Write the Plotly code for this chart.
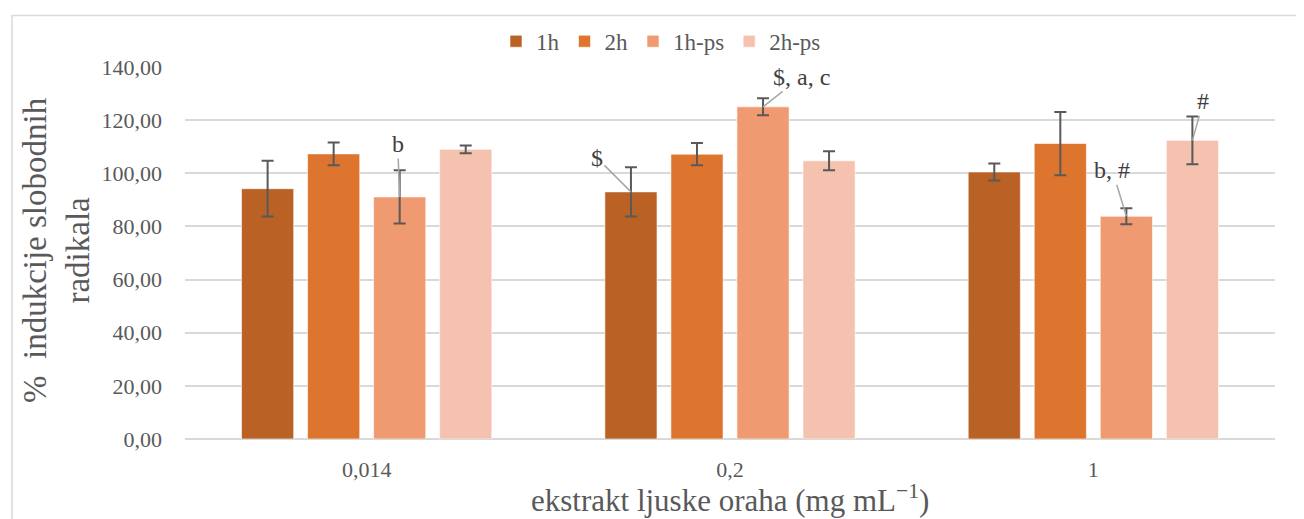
import plotly.graph_objects as go

categories = ["0,014", "0,2", "1"]
series_names = ["1h", "2h", "1h-ps", "2h-ps"]
values_1h = [94.2, 93.0, 100.5]
values_2h = [107.3, 107.2, 111.2]
values_1hps = [91.1, 125.0, 83.8]
values_2hps = [109.0, 104.7, 112.4]
err_1h = [10.5, 9.3, 3.2]
err_2h = [4.3, 4.2, 11.9]
err_1hps = [10.0, 3.2, 3.0]
err_2hps = [1.5, 3.6, 9.0]
colors = ["#BA6125", "#DE752E", "#F09A72", "#F4C2AF"]
y_ticks = [0, 20, 40, 60, 80, 100, 120, 140]

# significance labels: (text, category index, series index)
sig_labels = [("b", 0, 2), ("$", 1, 0), ("$, a, c", 1, 2), ("b, #", 2, 2), ("#", 2, 3)]
sig_offsets = [(-2, -53), (-34, -34), (38, -30), (-14, -46), (11, -39)]

all_vals = [values_1h, values_2h, values_1hps, values_2hps]
all_errs = [err_1h, err_2h, err_1hps, err_2hps]

FONT = "Liberation Serif"
GREY = "#595959"
BARGAP = 0.273
OFF = 8  # page body margin
W, H = 1304 - OFF, 519 - OFF
L, R, T, B = 185 - OFF, 29, 63 - OFF, 80
PW, PH = W - L - R, H - T - B


def px_to_paper_x(px):
    return (px - OFF - L) / PW


def px_to_paper_y(py):
    return (H - B - (py - OFF)) / PH


fig = go.Figure()
for name, vals, errs, col in zip(series_names, all_vals, all_errs, colors):
    fig.add_trace(go.Bar(
        name=name, x=categories, y=vals,
        marker=dict(color=col, line=dict(color="rgba(255,255,255,0.6)", width=1)),
        error_y=dict(type="data", array=errs, visible=True, color=GREY, thickness=2, width=6),
    ))

slot = (1 - BARGAP) / len(series_names)
annotations = []
for (text, gi, si), (ax, ay) in zip(sig_labels, sig_offsets):
    xpos = gi + (si - (len(series_names) - 1) / 2) * slot
    annotations.append(dict(
        x=xpos, y=all_vals[si][gi], xref="x", yref="y", text=text,
        showarrow=True, arrowhead=0, arrowwidth=1.5, arrowcolor="#A6A6A6",
        ax=ax, ay=ay, font=dict(family=FONT, size=24, color="#404040"),
    ))

# axis titles
annotations.append(dict(
    text="%\u00a0\u00a0indukcije slobodnih<br>radikala", xref="paper", yref="paper",
    x=px_to_paper_x(56), y=px_to_paper_y(248), showarrow=False, textangle=-90,
    font=dict(family=FONT, size=33, color=GREY), xanchor="center", yanchor="middle",
))
annotations.append(dict(
    text="ekstrakt ljuske oraha (mg mL<sup>\u22121</sup>)", xref="paper", yref="paper",
    x=px_to_paper_x(730), y=px_to_paper_y(499), showarrow=False,
    font=dict(family=FONT, size=31, color=GREY), xanchor="center", yanchor="middle",
))

fig.update_layout(
    width=W, height=H,
    margin=dict(l=L, r=R, t=T, b=B),
    paper_bgcolor="white", plot_bgcolor="white",
    barmode="group", bargap=BARGAP, bargroupgap=0.21,
    separators=", ",
    font=dict(family=FONT, color=GREY),
    legend=dict(orientation="h", x=px_to_paper_x(661), y=px_to_paper_y(37),
                xanchor="center", yanchor="middle",
                font=dict(family=FONT, size=23, color=GREY), bgcolor="rgba(0,0,0,0)"),
    annotations=annotations,
    shapes=[dict(type="rect", xref="paper", yref="paper",
                 x0=px_to_paper_x(12), x1=1.2, y0=-0.5, y1=px_to_paper_y(11),
                 line=dict(color="#D9D9D9", width=1.5), layer="below")],
)
fig.update_xaxes(
    showgrid=False, showline=False, zeroline=False,
    tickfont=dict(family=FONT, size=22, color=GREY), ticks="", ticklabelstandoff=15,
)
fig.update_yaxes(
    range=[0, 140], tickvals=y_ticks, tickformat=".2f",
    showgrid=True, gridcolor="#D9D9D9", gridwidth=1.5,
    zeroline=True, zerolinecolor="#D9D9D9", zerolinewidth=1.5,
    showline=False, ticks="", ticklabelstandoff=22,
    tickfont=dict(family=FONT, size=22, color=GREY),
)
fig.write_html("out.html")
